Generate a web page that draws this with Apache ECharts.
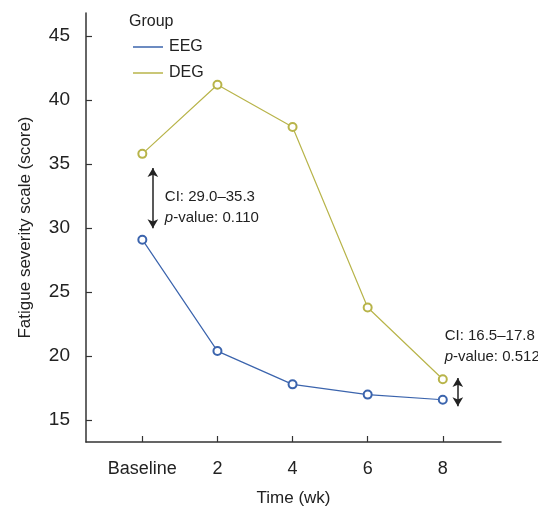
<!DOCTYPE html>
<html>
<head>
<meta charset="utf-8">
<script src="https://cdn.jsdelivr.net/npm/echarts@6/dist/echarts.min.js"></script>
<style>
  html, body { margin: 0; padding: 0; background: #fff; }
  #main { width: 538px; height: 512px; }
</style>
</head>
<body>
<div id="main"></div>
<script>
// weeks (0 = Baseline)
var weeks = [0, 2, 4, 6, 8];
var eeg = [29.1, 20.4, 17.8, 17.0, 16.6];
var deg = [35.8, 41.2, 37.9, 23.8, 18.2];
var yTicks = [15, 20, 25, 30, 35, 40, 45];

// CI arrows and notes (data space)
var arrow1 = [[0.28, 34.7], [0.28, 30.0]];
var arrow2 = [[8.4, 18.3], [8.4, 16.1]];
var note1 = { at: [0.6, 31.6], ci: "CI: 29.0–35.3", p: "0.110" };
var note2 = { at: [8.05, 20.8], ci: "CI: 16.5–17.8", p: "0.512" };

var font = "Liberation Sans";
var blue = "#3b64ad";
var olive = "#b8b44a";

var chartDom = document.getElementById("main");
var myChart = echarts.init(chartDom);
var option;

function pairs(ys) {
  return weeks.map(function (w, i) { return [w, ys[i]]; });
}

function noteLabel(n) {
  return {
    coord: n.at,
    symbol: "circle",
    symbolSize: 0,
    label: {
      show: true,
      position: "right",
      distance: 0,
      formatter: "{a|" + n.ci + "}\n{i|p}{a|-value: " + n.p + "}",
      rich: {
        a: { fontFamily: font, fontSize: 15, color: "#222", lineHeight: 21 },
        i: { fontFamily: font, fontSize: 15, color: "#222", fontStyle: "italic", lineHeight: 21 }
      }
    }
  };
}

var arrowLine = {
  silent: true,
  symbol: ["arrow", "arrow"],
  symbolSize: [8, 9],
  label: { show: false },
  lineStyle: { color: "#222", width: 1.5, type: "solid" },
  emphasis: { disabled: true },
  data: [
    [{ coord: arrow1[0] }, { coord: arrow1[1] }],
    [{ coord: arrow2[0] }, { coord: arrow2[1] }]
  ]
};

option = {
  animation: false,
  textStyle: { fontFamily: font },
  title: {
    text: "Group",
    left: 129,
    top: 14,
    padding: 0,
    textStyle: { fontFamily: font, fontSize: 16, fontWeight: "normal", color: "#222" }
  },
  legend: {
    orient: "vertical",
    left: 133,
    top: 39,
    padding: 0,
    itemGap: 10,
    itemWidth: 30,
    itemHeight: 1.5,
    icon: "rect",
    textStyle: { fontFamily: font, fontSize: 16, color: "#222", lineHeight: 16, padding: [0, 0, 0, 1] },
    data: ["EEG", "DEG"]
  },
  grid: { left: 86, top: 13, right: 37, bottom: 69 },
  xAxis: {
    type: "value",
    min: -1.5,
    max: 9.55,
    name: "Time (wk)",
    nameLocation: "middle",
    nameGap: 48,
    nameTextStyle: { fontFamily: font, fontSize: 17, color: "#222" },
    splitLine: { show: false },
    axisLine: { onZero: false, lineStyle: { color: "#333", width: 1.5 } },
    axisTick: { inside: true, length: 6, lineStyle: { color: "#333", width: 1.2 }, customValues: weeks },
    axisLabel: {
      customValues: weeks,
      margin: 18,
      fontFamily: font,
      fontSize: 18,
      color: "#222",
      formatter: function (v) { return v === 0 ? "Baseline" : String(v); }
    }
  },
  yAxis: {
    type: "value",
    min: 13.3,
    max: 46.8,
    name: "Fatigue severity scale (score)",
    nameLocation: "middle",
    nameGap: 52,
    nameTextStyle: { fontFamily: font, fontSize: 17, color: "#222" },
    splitLine: { show: false },
    axisLine: { show: true, onZero: false, lineStyle: { color: "#333", width: 1.5 } },
    axisTick: { show: true, inside: true, length: 6, lineStyle: { color: "#333", width: 1.2 }, customValues: yTicks },
    axisLabel: { customValues: yTicks, margin: 16, fontFamily: font, fontSize: 19, color: "#222" }
  },
  series: [
    {
      name: "EEG",
      type: "line",
      data: pairs(eeg),
      symbol: "emptyCircle",
      symbolSize: 8,
      color: blue,
      lineStyle: { color: blue, width: 1.2 },
      itemStyle: { color: blue, borderWidth: 1.2 },
      markLine: arrowLine
    },
    {
      name: "DEG",
      type: "line",
      data: pairs(deg),
      symbol: "emptyCircle",
      symbolSize: 8,
      color: olive,
      lineStyle: { color: olive, width: 1.2 },
      itemStyle: { color: olive, borderWidth: 1.2 },
      markPoint: {
        silent: true,
        data: [noteLabel(note1), noteLabel(note2)]
      }
    }
  ]
};

option && myChart.setOption(option);
</script>
</body>
</html>
